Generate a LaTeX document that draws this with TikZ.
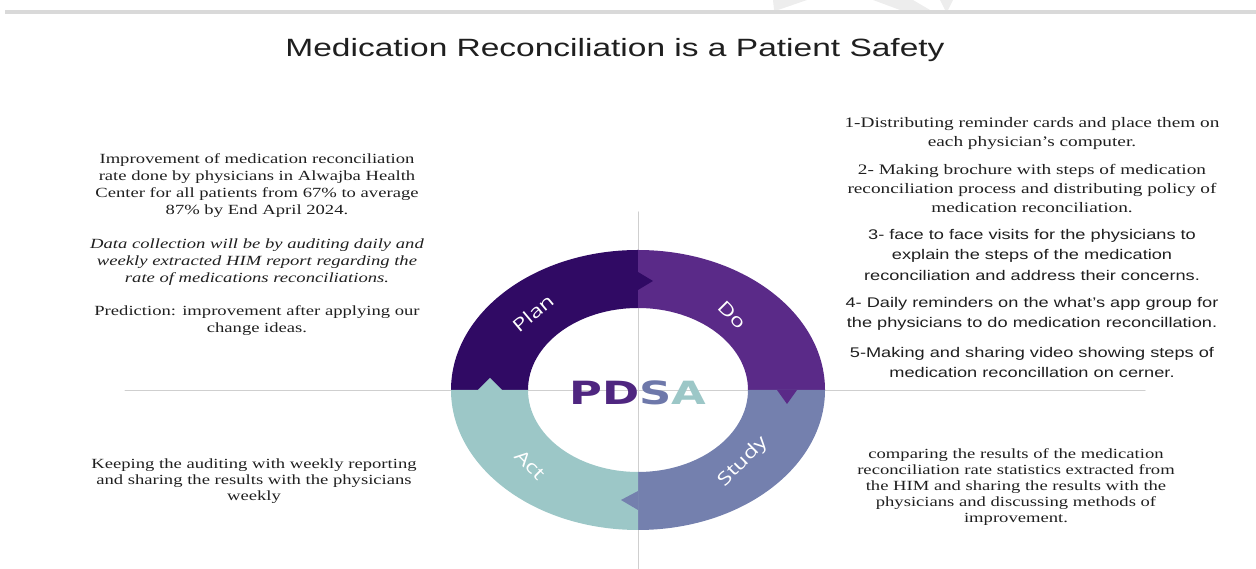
\documentclass[tikz,border=0pt]{standalone}
\usepackage{fontspec}
\setmainfont{Liberation Serif}[FakeStretch=1.33]
\newfontfamily\headfont{Liberation Sans}[FakeStretch=1.34]
\newfontfamily\stepfont{Liberation Sans}[FakeStretch=1.3]
\newfontfamily\cyclefont{Open Sans}[FakeStretch=1.3]
\newfontfamily\pdsafont{DejaVu Sans}[FakeStretch=1.4]

\definecolor{planpurple}{HTML}{300A64}
\definecolor{dopurple}{HTML}{5A2A88}
\definecolor{studyblue}{HTML}{7480AE}
\definecolor{actteal}{HTML}{9CC7C7}
\definecolor{pdsadark}{HTML}{4F2680}
\definecolor{pdsamid}{HTML}{6E78AA}
\definecolor{ink}{HTML}{1F1F1F}
\definecolor{axisgray}{HTML}{CFCFCF}
\definecolor{rulegray}{HTML}{D9D9D9}
\definecolor{markgray}{HTML}{EDEDED}
\usetikzlibrary{positioning}

\tikzset{
  bodytext/.style={align=center, inner sep=0pt, anchor=north, text=ink,
    font=\fontsize{14}{17}\selectfont},
  itemserif/.style={align=center, inner sep=0pt, anchor=north, text=ink,
    font=\fontsize{14.5}{19}\selectfont},
  itemsans/.style={align=center, inner sep=0pt, anchor=north, text=ink,
    font=\stepfont\fontsize{14}{20.5}\selectfont},
  ringlabel/.style={text=white, inner sep=0pt, font=\cyclefont\fontsize{18}{18}\selectfont},
  axis/.style={draw=axisgray, line width=1pt}
}

\begin{document}
\begin{tikzpicture}[x=1pt, y=1pt, line join=round, line cap=round]
    \useasboundingbox (0,0) rectangle (1256,569);

    % Faint watermark and header rule
    \fill[markgray] (773,569) -- (807,569) -- (778,559) -- (774,559) -- cycle;
    \fill[markgray] (873,569) -- (913,569) -- (930,559) -- (900,559) -- cycle;
    \fill[markgray] (940,569) -- (953,569) -- (948,559) -- (945,559) -- cycle;
    \draw[line width=4pt, rulegray, line cap=butt] (5,557) -- (1256,557);

    % Title
    \node[text=ink, inner sep=0pt, font=\headfont\fontsize{25}{25}\selectfont] (title) at (615,519)
        {Medication Reconciliation is a Patient Safety};

    % Coordinates for the axis cross
    \coordinate (C) at (638,179);        % centre of the cycle
    \coordinate (axtop) at (638,357);
    \coordinate (axbot) at (638,0);
    \coordinate (axleft) at (125,178);
    \coordinate (axright) at (1145,178);
    \draw[axis] (axtop) -- (axbot);
    \draw[axis] (axleft) -- (axright);

    % PDSA ring, one quadrant per stage
    \begin{scope}[shift={(C)}]
        \fill[planpurple] (-187,0) arc[start angle=180, end angle=90, x radius=187, y radius=140]
            -- (0,82) arc[start angle=90, end angle=180, x radius=110, y radius=82] -- cycle;
        \fill[dopurple] (0,140) arc[start angle=90, end angle=0, x radius=187, y radius=140]
            -- (110,0) arc[start angle=0, end angle=90, x radius=110, y radius=82] -- cycle;
        \fill[studyblue] (187,0) arc[start angle=0, end angle=-90, x radius=187, y radius=140]
            -- (0,-82) arc[start angle=-90, end angle=0, x radius=110, y radius=82] -- cycle;
        \fill[actteal] (0,-140) arc[start angle=-90, end angle=-180, x radius=187, y radius=140]
            -- (-110,0) arc[start angle=-180, end angle=-90, x radius=110, y radius=82] -- cycle;

        % Arrow tips poking into the next stage
        \fill[planpurple] (0,100) -- (0,118) -- (15,109) -- cycle;
        \fill[dopurple]   (139,0) -- (159,0) -- (149,-14) -- cycle;
        \fill[studyblue]  (0,-101) -- (0,-120) -- (-17,-110) -- cycle;
        \fill[actteal]    (-160,0) -- (-136,0) -- (-148,12) -- cycle;

        % Stage labels
        \node[ringlabel, rotate=40]  (planlbl)  at (-105,77)  {Plan};
        \node[ringlabel, rotate=-45] (dolbl)    at (94,75)    {Do};
        \node[ringlabel, rotate=45]  (studylbl) at (105,-72)  {Study};
        \node[ringlabel, rotate=-45] (actlbl)   at (-108,-75) {Act};

        \node[inner sep=0pt, font=\pdsafont\bfseries\fontsize{32}{32}\selectfont] (pdsa) at (0,-3)
            {\textcolor{pdsadark}{PD}\textcolor{pdsamid}{S}\textcolor{actteal}{A}};
    \end{scope}

    % Plan
    \node[bodytext] (plangoal) at (257,416)
        {Improvement of medication reconciliation\\
         rate done by physicians in Alwajba Health\\
         Center for all patients from 67\% to average\\
         87\% by End April 2024.};
    \node[bodytext, font=\itshape\fontsize{14}{17}\selectfont] (plandata) at (257,330)
        {Data collection will be by auditing daily and\\
         weekly extracted HIM report regarding the\\
         rate of medications reconciliations.};
    \node[bodytext] (planpred) at (257,264)
        {Prediction: improvement after applying our\\
         change ideas.};

    % Do
    \node[itemserif] (doone) at (1032,452)
        {1-Distributing reminder cards and place them on\\
         each physician’s computer.};
    \node[itemserif] (dotwo) at (1032,405)
        {2- Making brochure with steps of medication\\
         reconciliation process and distributing policy of\\
         medication reconciliation.};
    \node[itemsans] (dothree) at (1032,340)
        {3- face to face visits for the physicians to\\
         explain the steps of the medication\\
         reconciliation and address their concerns.};
    \node[itemsans] (dofour) at (1032,272)
        {4- Daily reminders on the what’s app group for\\
         the physicians to do medication reconcillation.};
    \node[itemsans] (dofive) at (1032,222)
        {5-Making and sharing video showing steps of\\
         medication reconcillation on cerner.};

    % Study
    \node[bodytext, font=\fontsize{14}{16}\selectfont] (studytxt) at (1016,121)
        {comparing the results of the medication\\
         reconciliation rate statistics extracted from\\
         the HIM and sharing the results with the\\
         physicians and discussing methods of\\
         improvement.};

    % Act
    \node[bodytext, font=\fontsize{14}{16}\selectfont] (acttxt) at (254,110)
        {Keeping the auditing with weekly reporting\\
         and sharing the results with the physicians\\
         weekly};
\end{tikzpicture}
\end{document}
